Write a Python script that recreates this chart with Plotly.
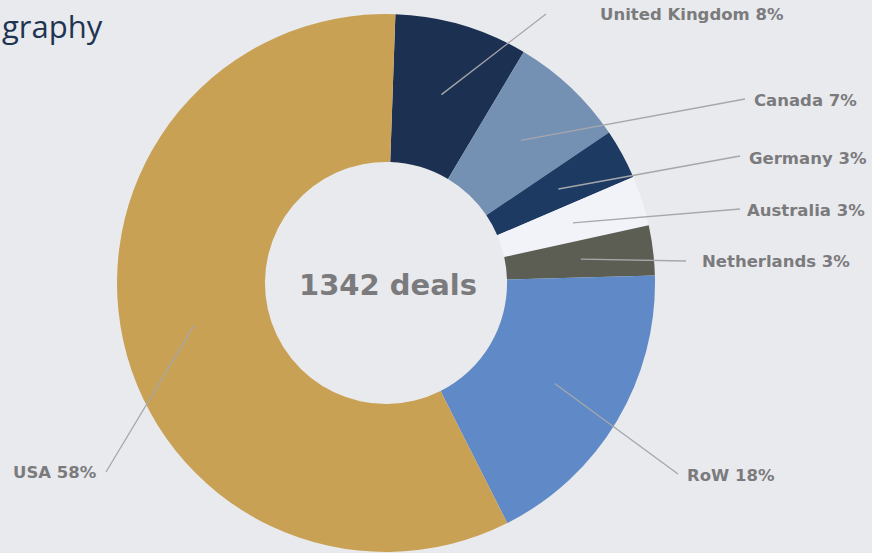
import math
import plotly.graph_objects as go

# ---- data ----
countries = ["United Kingdom", "Canada", "Germany", "Australia", "Netherlands", "RoW", "USA"]
shares = [8, 7, 3, 3, 3, 18, 58]
slice_colors = ["#1C3152", "#7490B2", "#1D3A62", "#F1F3F8", "#5C5E54", "#5F8AC7", "#C9A155"]
total_deals = 1342
title_text = "graphy"

# ---- layout (pixels) ----
W, H = 872, 553
CX, CY, R = 386, 283, 269
HOLE = 0.45
ROT = 2
# leader-line outer end points and label anchors (layout)
line_end = [(546, 14), (745, 99), (740, 156), (740, 209), (686, 261), (678, 474), (106, 472)]
label_pos = [(598, 15), (752, 101), (747, 158), (745, 210), (700, 261), (685, 475), (99, 472)]
label_anchor = ["left", "left", "left", "left", "left", "left", "right"]

BG = "#E9EAED"
TXT = "#7B7B7E"
LINE = "#A6A7AB"
LABEL_FONT = "DejaVu Sans"


def px(x, y):
    return x / W, 1 - y / H


fig = go.Figure()
fig.add_trace(go.Pie(
    labels=countries, values=shares, sort=False, direction="clockwise",
    rotation=ROT, hole=HOLE, textinfo="none", hoverinfo="label+percent",
    marker=dict(colors=slice_colors, line=dict(color="#EEF0F4", width=0)),
    domain=dict(x=[(CX - R) / W, (CX + R) / W], y=[(H - CY - R) / H, (H - CY + R) / H]),
    showlegend=False,
))

tot = sum(shares)
cum = 0
shapes = []
annotations = []
for i, (name, v) in enumerate(zip(countries, shares)):
    mid = math.radians(ROT + 360 * (cum + v / 2) / tot)
    cum += v
    r = 0.73 * R
    ax = CX + r * math.sin(mid)
    ay = CY - r * math.cos(mid)
    x0, y0 = px(ax, ay)
    x1, y1 = px(*line_end[i])
    shapes.append(dict(type="line", xref="paper", yref="paper", x0=x0, y0=y0, x1=x1, y1=y1,
                       line=dict(color=LINE, width=1.3), layer="above"))
    lx, ly = px(*label_pos[i])
    annotations.append(dict(x=lx, y=ly, xref="paper", yref="paper", showarrow=False,
                            xanchor=label_anchor[i], yanchor="middle",
                            text=f"<b>{name} {v}%</b>",
                            font=dict(family=LABEL_FONT, size=16.5, color=TXT)))

cx, cy = px(CX + 2, CY + 2)
annotations.append(dict(x=cx, y=cy, xref="paper", yref="paper", showarrow=False,
                        xanchor="center", yanchor="middle",
                        text=f"<b>{total_deals} deals</b>",
                        font=dict(family=LABEL_FONT, size=29, color=TXT)))
tx, ty = px(0, 26)
annotations.append(dict(x=tx, y=ty, xref="paper", yref="paper", showarrow=False,
                        xanchor="left", yanchor="middle", text=title_text,
                        font=dict(family="Open Sans", size=31, color="#1F3453", weight=500)))

fig.update_layout(
    width=W, height=H, margin=dict(l=0, r=0, t=0, b=0),
    paper_bgcolor=BG, plot_bgcolor=BG,
    shapes=shapes, annotations=annotations,
)
fig.write_html("out.html", config={"displayModeBar": False},
               post_script="document.body.style.margin='0';")
